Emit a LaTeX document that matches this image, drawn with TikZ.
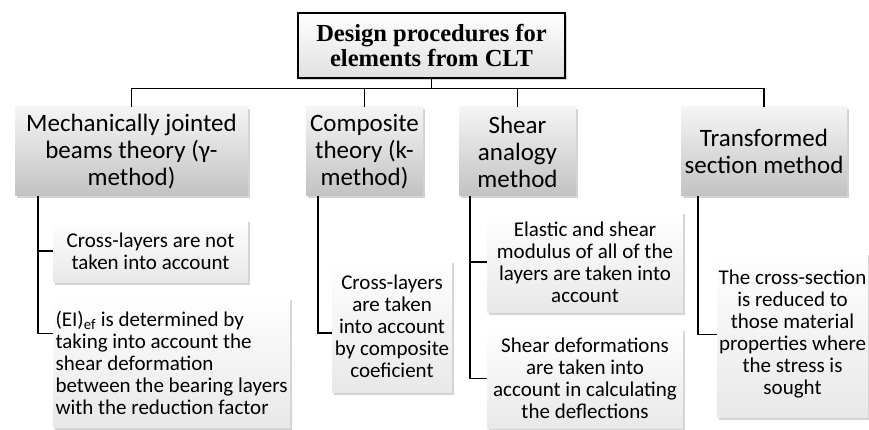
\documentclass[tikz,border=0pt]{standalone}
\usepackage{fontspec}
\setmainfont{Carlito}
\newfontfamily\titlefont{Liberation Serif}
\usetikzlibrary{positioning,shadows}

\begin{document}
\begin{tikzpicture}[
    x=1pt, y=1pt,
    box/.style={rectangle, inner sep=1pt, align=center, drop shadow={shadow xshift=2pt, shadow yshift=-2.5pt, opacity=0.35}},
    head/.style={box, draw, line width=1.2pt, top color=white, bottom color=black!12, minimum width=267pt, minimum height=65pt, font=\titlefont\bfseries\fontsize{24.5}{25}\selectfont},
    method/.style={box, top color=black!4, bottom color=black!24, minimum height=89pt, font=\fontsize{25}{27}\selectfont},
    note/.style={box, top color=white, bottom color=black!9, font=\fontsize{21}{22}\selectfont},
    conn/.style={line width=1.6pt}
  ]
    \useasboundingbox (0,0) rectangle (869,-430);

    \node[head] (title) at (431.5,-45.5) {Design procedures for\\elements from CLT};

    \node[method, minimum width=233pt] (mech) at (131.5,-151.5) {Mechanically jointed\\beams theory (γ-\\method)};
    \node[method, minimum width=117pt] (comp) at (364.5,-151.5) {Composite\\theory (k-\\method)};
    \node[method, minimum width=117pt] (shear) at (517.5,-151.5) {Shear\\analogy\\method};
    \node[method, minimum width=166pt] (trans) at (764,-151.5) {Transformed\\section method};

    \node[note, minimum width=195pt, minimum height=62pt] (notcross) at (150.5,-251) {Cross-layers are not\\taken into account};
    \node[note, minimum width=237pt, minimum height=130pt, align=left, below=15pt of notcross.south west, anchor=north west] (eiref) {(EI)\textsubscript{ef} is determined by\\taking into account the\\shear deformation\\between the bearing layers\\with the reduction factor};
    \node[note, minimum width=120pt, minimum height=132pt] (compnote) at (392,-326) {Cross-layers\\are taken\\into account\\by composite\\coeficient};
    \node[note, minimum width=196pt, minimum height=100pt] (modulus) at (585,-262) {Elastic and shear\\modulus of all of the\\layers are taken into\\account};
    \node[note, minimum width=196pt, minimum height=100pt, below=16pt of modulus] (deform) {Shear deformations\\are taken into\\account in calculating\\the deflections};
    \node[note, minimum width=151pt, minimum height=165pt] (reduced) at (792.5,-334.5) {The cross-section\\is reduced to\\those material\\properties where\\the stress is\\sought};

    \draw[conn] (title.south) -- ++(0,-10) coordinate (bus);
    \foreach \m in {mech,comp,shear,trans}
      \draw[conn] (bus) -| (\m.north);

    \draw[conn] ([xshift=23pt]mech.south west) |- (notcross.west);
    \draw[conn] ([xshift=23pt]mech.south west) |- ([yshift=29pt]eiref.west);
    \draw[conn] ([xshift=12pt]comp.south west) |- ([yshift=-7pt]compnote.west);
    \draw[conn] ([xshift=11pt]shear.south west) |- (modulus.west);
    \draw[conn] ([xshift=11pt]shear.south west) |- (deform.west);
    \draw[conn] ([xshift=17pt]trans.south west) |- (reduced.west);
  \end{tikzpicture}
\end{document}
